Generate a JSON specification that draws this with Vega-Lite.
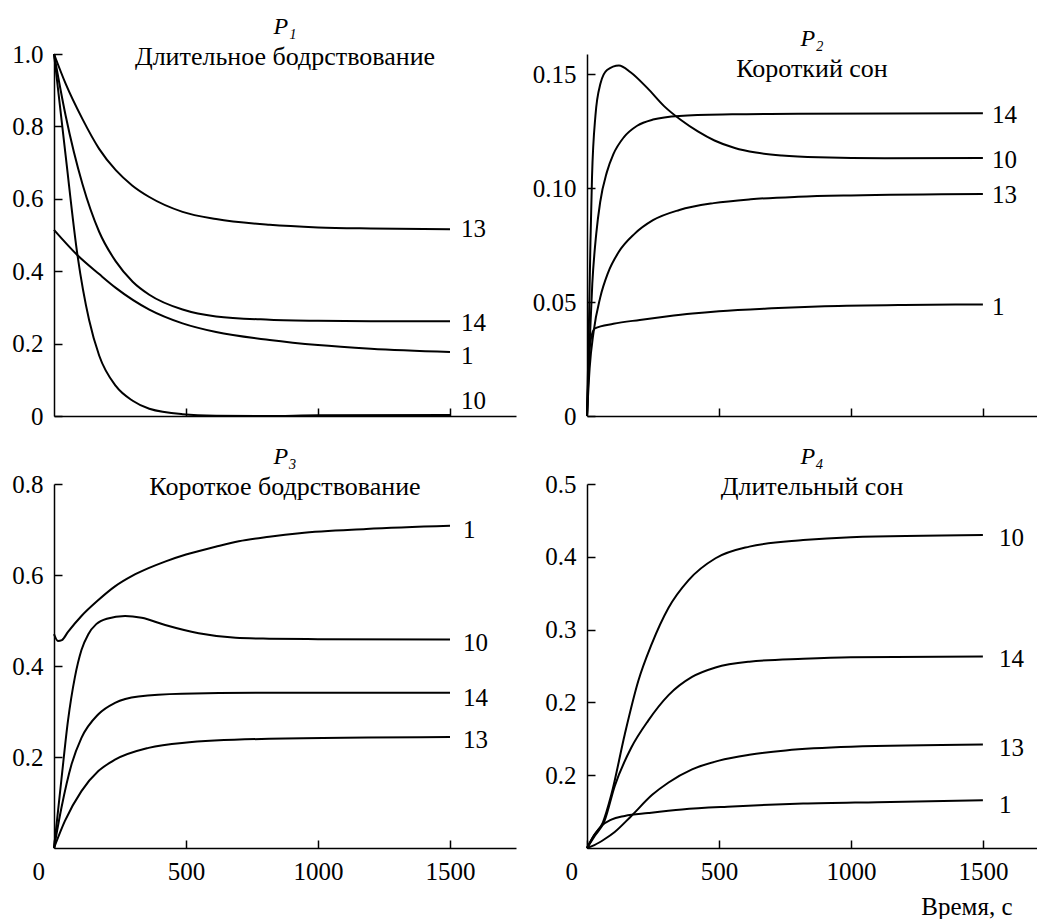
{
  "$schema": "https://vega.github.io/schema/vega-lite/v6.json",
  "background": "white",
  "padding": {"left": 11, "top": 15, "right": 0, "bottom": 0},
  "columns": 2,
  "spacing": {"row": 68, "column": 71},
  "bounds": "flush",
  "config": {
    "view": {"stroke": null},
    "font": "Liberation Serif, Times New Roman, Times, Tinos, Noto Serif, DejaVu Serif, FreeSerif, serif",
    "axis": {
      "grid": false,
      "labelFont": "Liberation Serif, Times New Roman, Times, Tinos, Noto Serif, DejaVu Serif, FreeSerif, serif",
      "labelFontSize": 25,
      "labelColor": "black",
      "domainColor": "black",
      "domainWidth": 1.5,
      "tickColor": "black",
      "tickWidth": 1.5,
      "tickSize": -8,
      "labelPadding": 19,
      "title": null
    },
    "title": {
      "font": "Liberation Serif, Times New Roman, Times, Tinos, Noto Serif, DejaVu Serif, FreeSerif, serif",
      "fontSize": 24,
      "fontStyle": "italic",
      "fontWeight": "normal",
      "color": "black",
      "subtitleFont": "Liberation Serif, Times New Roman, Times, Tinos, Noto Serif, DejaVu Serif, FreeSerif, serif",
      "subtitleFontSize": 26,
      "subtitleColor": "black",
      "subtitlePadding": 5,
      "offset": -28,
      "anchor": "middle"
    },
    "line": {"color": "black", "strokeWidth": 2, "interpolate": "monotone"},
    "text": {"font": "Liberation Serif, Times New Roman, Times, Tinos, Noto Serif, DejaVu Serif, FreeSerif, serif", "fontSize": 25, "color": "black", "align": "left", "baseline": "middle"}
  },
  "datasets": {
    "p1": [
      {"t": 0, "p": 1.0, "c": "13"}, {"t": 44, "p": 0.918, "c": "13"}, {"t": 108, "p": 0.82, "c": "13"}, {"t": 171, "p": 0.738, "c": "13"}, {"t": 234, "p": 0.679, "c": "13"}, {"t": 296, "p": 0.637, "c": "13"}, {"t": 361, "p": 0.605, "c": "13"}, {"t": 487, "p": 0.564, "c": "13"}, {"t": 614, "p": 0.544, "c": "13"}, {"t": 817, "p": 0.528, "c": "13"}, {"t": 1000, "p": 0.521, "c": "13"}, {"t": 1200, "p": 0.518, "c": "13"}, {"t": 1500, "p": 0.516, "c": "13"},
      {"t": 0, "p": 1.0, "c": "14"}, {"t": 44, "p": 0.83, "c": "14"}, {"t": 108, "p": 0.64, "c": "14"}, {"t": 171, "p": 0.509, "c": "14"}, {"t": 234, "p": 0.427, "c": "14"}, {"t": 298, "p": 0.371, "c": "14"}, {"t": 361, "p": 0.335, "c": "14"}, {"t": 487, "p": 0.294, "c": "14"}, {"t": 614, "p": 0.275, "c": "14"}, {"t": 817, "p": 0.266, "c": "14"}, {"t": 1000, "p": 0.263, "c": "14"}, {"t": 1200, "p": 0.262, "c": "14"}, {"t": 1500, "p": 0.262, "c": "14"},
      {"t": 0, "p": 0.514, "c": "1"}, {"t": 89, "p": 0.444, "c": "1"}, {"t": 171, "p": 0.392, "c": "1"}, {"t": 234, "p": 0.354, "c": "1"}, {"t": 361, "p": 0.294, "c": "1"}, {"t": 487, "p": 0.256, "c": "1"}, {"t": 614, "p": 0.232, "c": "1"}, {"t": 817, "p": 0.21, "c": "1"}, {"t": 1000, "p": 0.196, "c": "1"}, {"t": 1200, "p": 0.186, "c": "1"}, {"t": 1500, "p": 0.177, "c": "1"},
      {"t": 0, "p": 1.0, "c": "10"}, {"t": 44, "p": 0.72, "c": "10"}, {"t": 89, "p": 0.444, "c": "10"}, {"t": 133, "p": 0.265, "c": "10"}, {"t": 171, "p": 0.167, "c": "10"}, {"t": 234, "p": 0.083, "c": "10"}, {"t": 298, "p": 0.042, "c": "10"}, {"t": 361, "p": 0.02, "c": "10"}, {"t": 487, "p": 0.005, "c": "10"}, {"t": 614, "p": 0.001, "c": "10"}, {"t": 800, "p": 0.0, "c": "10"}, {"t": 1000, "p": 0.002, "c": "10"}, {"t": 1500, "p": 0.003, "c": "10"}
    ],
    "p2": [
      {"t": 0, "p": 0, "c": "10"}, {"t": 6, "p": 0.032, "c": "10"}, {"t": 13, "p": 0.076, "c": "10"}, {"t": 19, "p": 0.105, "c": "10"}, {"t": 32, "p": 0.132, "c": "10"}, {"t": 51, "p": 0.146, "c": "10"}, {"t": 76, "p": 0.152, "c": "10"}, {"t": 121, "p": 0.154, "c": "10"}, {"t": 165, "p": 0.151, "c": "10"}, {"t": 229, "p": 0.144, "c": "10"}, {"t": 293, "p": 0.136, "c": "10"}, {"t": 356, "p": 0.13, "c": "10"}, {"t": 420, "p": 0.125, "c": "10"}, {"t": 483, "p": 0.121, "c": "10"}, {"t": 560, "p": 0.1177, "c": "10"}, {"t": 640, "p": 0.1157, "c": "10"}, {"t": 738, "p": 0.1144, "c": "10"}, {"t": 876, "p": 0.1136, "c": "10"}, {"t": 1129, "p": 0.1132, "c": "10"}, {"t": 1500, "p": 0.1133, "c": "10"},
      {"t": 0, "p": 0, "c": "14"}, {"t": 10, "p": 0.032, "c": "14"}, {"t": 20, "p": 0.058, "c": "14"}, {"t": 35, "p": 0.08, "c": "14"}, {"t": 50, "p": 0.094, "c": "14"}, {"t": 75, "p": 0.107, "c": "14"}, {"t": 100, "p": 0.115, "c": "14"}, {"t": 140, "p": 0.1225, "c": "14"}, {"t": 190, "p": 0.1275, "c": "14"}, {"t": 250, "p": 0.1302, "c": "14"}, {"t": 350, "p": 0.1318, "c": "14"}, {"t": 550, "p": 0.1325, "c": "14"}, {"t": 800, "p": 0.1328, "c": "14"}, {"t": 1500, "p": 0.133, "c": "14"},
      {"t": 0, "p": 0, "c": "13"}, {"t": 10, "p": 0.021, "c": "13"}, {"t": 25, "p": 0.037, "c": "13"}, {"t": 50, "p": 0.052, "c": "13"}, {"t": 80, "p": 0.063, "c": "13"}, {"t": 120, "p": 0.072, "c": "13"}, {"t": 180, "p": 0.08, "c": "13"}, {"t": 250, "p": 0.086, "c": "13"}, {"t": 350, "p": 0.0905, "c": "13"}, {"t": 480, "p": 0.0935, "c": "13"}, {"t": 620, "p": 0.0952, "c": "13"}, {"t": 800, "p": 0.0963, "c": "13"}, {"t": 1000, "p": 0.0969, "c": "13"}, {"t": 1500, "p": 0.0975, "c": "13"},
      {"t": 0, "p": 0, "c": "1"}, {"t": 6, "p": 0.022, "c": "1"}, {"t": 15, "p": 0.034, "c": "1"}, {"t": 30, "p": 0.0385, "c": "1"}, {"t": 100, "p": 0.0405, "c": "1"}, {"t": 200, "p": 0.0422, "c": "1"}, {"t": 300, "p": 0.0437, "c": "1"}, {"t": 400, "p": 0.045, "c": "1"}, {"t": 500, "p": 0.046, "c": "1"}, {"t": 700, "p": 0.0473, "c": "1"}, {"t": 900, "p": 0.0482, "c": "1"}, {"t": 1200, "p": 0.0488, "c": "1"}, {"t": 1500, "p": 0.049, "c": "1"}
    ],
    "p3": [
      {"t": 0, "p": 0.47, "c": "1"}, {"t": 15, "p": 0.455, "c": "1"}, {"t": 30, "p": 0.457, "c": "1"}, {"t": 53, "p": 0.475, "c": "1"}, {"t": 104, "p": 0.51, "c": "1"}, {"t": 168, "p": 0.545, "c": "1"}, {"t": 231, "p": 0.575, "c": "1"}, {"t": 296, "p": 0.598, "c": "1"}, {"t": 358, "p": 0.615, "c": "1"}, {"t": 423, "p": 0.63, "c": "1"}, {"t": 500, "p": 0.645, "c": "1"}, {"t": 612, "p": 0.662, "c": "1"}, {"t": 700, "p": 0.674, "c": "1"}, {"t": 815, "p": 0.684, "c": "1"}, {"t": 930, "p": 0.692, "c": "1"}, {"t": 1183, "p": 0.701, "c": "1"}, {"t": 1500, "p": 0.708, "c": "1"},
      {"t": 0, "p": 0, "c": "10"}, {"t": 28, "p": 0.15, "c": "10"}, {"t": 53, "p": 0.28, "c": "10"}, {"t": 79, "p": 0.375, "c": "10"}, {"t": 104, "p": 0.435, "c": "10"}, {"t": 130, "p": 0.47, "c": "10"}, {"t": 160, "p": 0.492, "c": "10"}, {"t": 200, "p": 0.504, "c": "10"}, {"t": 269, "p": 0.51, "c": "10"}, {"t": 332, "p": 0.506, "c": "10"}, {"t": 421, "p": 0.49, "c": "10"}, {"t": 548, "p": 0.472, "c": "10"}, {"t": 688, "p": 0.462, "c": "10"}, {"t": 815, "p": 0.46, "c": "10"}, {"t": 1000, "p": 0.459, "c": "10"}, {"t": 1500, "p": 0.458, "c": "10"},
      {"t": 0, "p": 0, "c": "14"}, {"t": 28, "p": 0.088, "c": "14"}, {"t": 66, "p": 0.183, "c": "14"}, {"t": 104, "p": 0.242, "c": "14"}, {"t": 168, "p": 0.294, "c": "14"}, {"t": 231, "p": 0.319, "c": "14"}, {"t": 320, "p": 0.333, "c": "14"}, {"t": 485, "p": 0.339, "c": "14"}, {"t": 815, "p": 0.341, "c": "14"}, {"t": 1500, "p": 0.341, "c": "14"},
      {"t": 0, "p": 0, "c": "13"}, {"t": 41, "p": 0.059, "c": "13"}, {"t": 104, "p": 0.125, "c": "13"}, {"t": 168, "p": 0.169, "c": "13"}, {"t": 231, "p": 0.194, "c": "13"}, {"t": 358, "p": 0.22, "c": "13"}, {"t": 485, "p": 0.231, "c": "13"}, {"t": 815, "p": 0.24, "c": "13"}, {"t": 1500, "p": 0.244, "c": "13"}
    ],
    "p4": [
      {"t": 0, "p": 0, "c": "10"}, {"t": 28, "p": 0.018, "c": "10"}, {"t": 60, "p": 0.035, "c": "10"}, {"t": 92, "p": 0.073, "c": "10"}, {"t": 143, "p": 0.156, "c": "10"}, {"t": 194, "p": 0.229, "c": "10"}, {"t": 245, "p": 0.28, "c": "10"}, {"t": 309, "p": 0.33, "c": "10"}, {"t": 385, "p": 0.368, "c": "10"}, {"t": 487, "p": 0.398, "c": "10"}, {"t": 615, "p": 0.414, "c": "10"}, {"t": 819, "p": 0.423, "c": "10"}, {"t": 1000, "p": 0.427, "c": "10"}, {"t": 1500, "p": 0.43, "c": "10"},
      {"t": 0, "p": 0, "c": "14"}, {"t": 28, "p": 0.016, "c": "14"}, {"t": 66, "p": 0.037, "c": "14"}, {"t": 105, "p": 0.085, "c": "14"}, {"t": 168, "p": 0.138, "c": "14"}, {"t": 232, "p": 0.175, "c": "14"}, {"t": 309, "p": 0.21, "c": "14"}, {"t": 398, "p": 0.235, "c": "14"}, {"t": 487, "p": 0.248, "c": "14"}, {"t": 615, "p": 0.256, "c": "14"}, {"t": 819, "p": 0.26, "c": "14"}, {"t": 1000, "p": 0.262, "c": "14"}, {"t": 1500, "p": 0.263, "c": "14"},
      {"t": 0, "p": 0, "c": "13"}, {"t": 28, "p": 0.004, "c": "13"}, {"t": 66, "p": 0.012, "c": "13"}, {"t": 105, "p": 0.022, "c": "13"}, {"t": 168, "p": 0.044, "c": "13"}, {"t": 247, "p": 0.073, "c": "13"}, {"t": 309, "p": 0.09, "c": "13"}, {"t": 398, "p": 0.108, "c": "13"}, {"t": 500, "p": 0.12, "c": "13"}, {"t": 615, "p": 0.128, "c": "13"}, {"t": 753, "p": 0.134, "c": "13"}, {"t": 1000, "p": 0.139, "c": "13"}, {"t": 1500, "p": 0.142, "c": "13"},
      {"t": 0, "p": 0, "c": "1"}, {"t": 28, "p": 0.018, "c": "1"}, {"t": 54, "p": 0.03, "c": "1"}, {"t": 92, "p": 0.039, "c": "1"}, {"t": 143, "p": 0.044, "c": "1"}, {"t": 232, "p": 0.048, "c": "1"}, {"t": 360, "p": 0.053, "c": "1"}, {"t": 551, "p": 0.057, "c": "1"}, {"t": 819, "p": 0.061, "c": "1"}, {"t": 1100, "p": 0.063, "c": "1"}, {"t": 1500, "p": 0.0655, "c": "1"}
    ],
    "l1": [{"t": 1500, "p": 0.517, "c": "13"}, {"t": 1500, "p": 0.257, "c": "14"}, {"t": 1500, "p": 0.166, "c": "1"}, {"t": 1500, "p": 0.041, "c": "10"}],
    "l2": [{"t": 1500, "p": 0.132, "c": "14"}, {"t": 1500, "p": 0.1125, "c": "10"}, {"t": 1500, "p": 0.097, "c": "13"}, {"t": 1500, "p": 0.048, "c": "1"}],
    "l3": [{"t": 1500, "p": 0.70, "c": "1"}, {"t": 1500, "p": 0.4505, "c": "10"}, {"t": 1500, "p": 0.33, "c": "14"}, {"t": 1500, "p": 0.238, "c": "13"}],
    "l4": [{"t": 1500, "p": 0.4264, "c": "10"}, {"t": 1500, "p": 0.259, "c": "14"}, {"t": 1500, "p": 0.1376, "c": "13"}, {"t": 1500, "p": 0.0596, "c": "1"}]
  },
  "concat": [
    {
      "width": 462, "height": 362,
      "title": {"text": "P₁", "subtitle": "Длительное бодрствование"},
      "layer": [
        {
          "data": {"name": "p1"},
          "mark": {"type": "line"},
          "encoding": {
            "x": {"field": "t", "type": "quantitative", "scale": {"domain": [0, 1750], "nice": false}, "axis": {"values": [500, 1000, 1500], "labels": false}},
            "y": {"field": "p", "type": "quantitative", "scale": {"domain": [0, 1], "nice": false}, "axis": {"values": [0, 0.2, 0.4, 0.6, 0.8, 1.0], "labelExpr": "datum.value == 0 ? '0' : format(datum.value, '.1f')"}},
            "detail": {"field": "c"}
          }
        },
        {
          "data": {"name": "l1"},
          "mark": {"type": "text", "dx": 11},
          "encoding": {
            "x": {"field": "t", "type": "quantitative"},
            "y": {"field": "p", "type": "quantitative"},
            "text": {"field": "c"}
          }
        }
      ]
    },
    {
      "width": 450, "height": 362,
      "title": {"text": "P₂", "subtitle": "Короткий сон"},
      "layer": [
        {
          "data": {"name": "p2"},
          "mark": {"type": "line"},
          "encoding": {
            "x": {"field": "t", "type": "quantitative", "scale": {"domain": [0, 1705], "nice": false}, "axis": {"values": [500, 1000, 1500], "labels": false}},
            "y": {"field": "p", "type": "quantitative", "scale": {"domain": [0, 0.159], "nice": false}, "axis": {"values": [0, 0.05, 0.1, 0.15], "labelExpr": "datum.value == 0 ? '0' : format(datum.value, '.2f')"}},
            "detail": {"field": "c"}
          }
        },
        {
          "data": {"name": "l2"},
          "mark": {"type": "text", "dx": 9},
          "encoding": {
            "x": {"field": "t", "type": "quantitative"},
            "y": {"field": "p", "type": "quantitative"},
            "text": {"field": "c"}
          }
        }
      ]
    },
    {
      "width": 462, "height": 364,
      "title": {"text": "P₃", "subtitle": "Короткое бодрствование"},
      "layer": [
        {
          "data": {"name": "p3"},
          "mark": {"type": "line"},
          "encoding": {
            "x": {"field": "t", "type": "quantitative", "scale": {"domain": [0, 1750], "nice": false}, "axis": {"values": [0, 500, 1000, 1500], "format": "d", "labelOffset": {"condition": {"test": "datum.value == 0", "value": -22}, "value": 0}}},
            "y": {"field": "p", "type": "quantitative", "scale": {"domain": [0, 0.8], "nice": false}, "axis": {"values": [0.2, 0.4, 0.6, 0.8], "format": ".1f"}},
            "detail": {"field": "c"}
          }
        },
        {
          "data": {"name": "l3"},
          "mark": {"type": "text", "dx": 13},
          "encoding": {
            "x": {"field": "t", "type": "quantitative"},
            "y": {"field": "p", "type": "quantitative"},
            "text": {"field": "c"}
          }
        }
      ]
    },
    {
      "width": 450, "height": 364,
      "title": {"text": "P₄", "subtitle": "Длительный сон"},
      "layer": [
        {
          "data": {"name": "p4"},
          "mark": {"type": "line"},
          "encoding": {
            "x": {"field": "t", "type": "quantitative", "scale": {"domain": [0, 1705], "nice": false}, "axis": {"values": [0, 500, 1000, 1500], "format": "d", "labelOffset": {"condition": {"test": "datum.value == 0", "value": -22}, "value": 0}, "title": "Время, с", "titleFont": "Liberation Serif, Times New Roman, Times, Tinos, Noto Serif, DejaVu Serif, FreeSerif, serif", "titleFontSize": 25, "titleFontWeight": "normal", "titleColor": "black", "titleAlign": "right", "titleAnchor": "end", "titleBaseline": "middle", "titleX": 425, "titleY": 58}},
            "y": {"field": "p", "type": "quantitative", "scale": {"domain": [0, 0.5], "nice": false}, "axis": {"values": [0.1, 0.2, 0.3, 0.4, 0.5], "labelExpr": "datum.value < 0.15 ? '0.2' : format(datum.value, '.1f')"}},
            "detail": {"field": "c"}
          }
        },
        {
          "data": {"name": "l4"},
          "mark": {"type": "text", "dx": 16},
          "encoding": {
            "x": {"field": "t", "type": "quantitative"},
            "y": {"field": "p", "type": "quantitative"},
            "text": {"field": "c"}
          }
        }
      ]
    }
  ]
}
